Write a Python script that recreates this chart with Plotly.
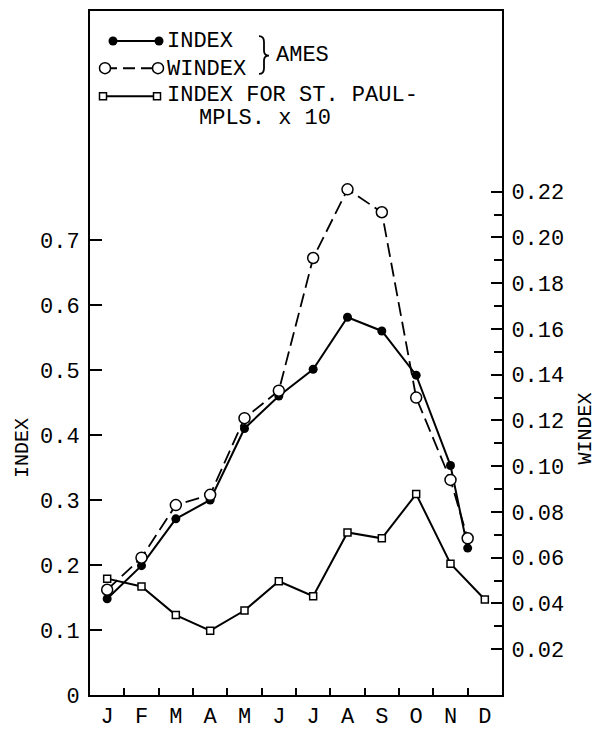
import plotly.graph_objects as go

# ---- data ----
month_labels = ["J", "F", "M", "A", "M", "J", "J", "A", "S", "O", "N", "D"]
month_pos = [0, 1, 2, 3, 4, 5, 6, 7, 8, 9, 10, 11]
ames_x = [0, 1, 2, 3, 4, 5, 6, 7, 8, 9, 10, 10.5]
index_ames = [0.148, 0.199, 0.271, 0.300, 0.410, 0.460, 0.501, 0.581, 0.560, 0.492, 0.353, 0.226]
windex_ames = [0.046, 0.060, 0.083, 0.0875, 0.121, 0.133, 0.191, 0.221, 0.211, 0.130, 0.094, 0.0685]
stpaul_x10 = [0.179, 0.167, 0.123, 0.099, 0.130, 0.175, 0.152, 0.250, 0.241, 0.309, 0.202, 0.147]

left_ticks = [0, 0.1, 0.2, 0.3, 0.4, 0.5, 0.6, 0.7]
left_ticktext = ["0", "0.1", "0.2", "0.3", "0.4", "0.5", "0.6", "0.7"]
right_major = [0.02, 0.04, 0.06, 0.08, 0.10, 0.12, 0.14, 0.16, 0.18, 0.20, 0.22]
right_major_text = ["0.02", "0.04", "0.06", "0.08", "0.10", "0.12", "0.14", "0.16", "0.18", "0.20", "0.22"]
right_minor = [0.03, 0.05, 0.07, 0.09, 0.11, 0.13, 0.15, 0.17, 0.19, 0.21]
month_bounds = [0.5, 1.5, 2.5, 3.5, 4.5, 5.5, 6.5, 7.5, 8.5, 9.5, 10.5]

FONT = "Liberation Mono"
FS = 22
W, H = 604, 739
L, R, T, B = 90, 502, 9, 715


def px(x):
    return (x - L) / (R - L)


def py(y):
    return (B - y) / (B - T)


fig = go.Figure()

fig.add_trace(go.Scatter(
    x=month_pos, y=stpaul_x10, mode="lines+markers", name="INDEX FOR ST. PAUL-MPLS. x 10",
    line=dict(color="black", width=2),
    marker=dict(symbol="square", size=7, color="white", line=dict(color="black", width=1.5)),
    showlegend=False))
fig.add_trace(go.Scatter(
    x=ames_x, y=index_ames, mode="lines+markers", name="INDEX",
    line=dict(color="black", width=2),
    marker=dict(symbol="circle", size=9, color="black"),
    showlegend=False))
fig.add_trace(go.Scatter(
    x=ames_x, y=windex_ames, mode="lines+markers", name="WINDEX", yaxis="y2",
    line=dict(color="black", width=1.8, dash="14px,6px"),
    marker=dict(symbol="circle", size=11, color="white", line=dict(color="black", width=1.5)),
    showlegend=False))

# legend glyphs (pixel-space overlay axes)
leg_rows = [
    dict(x=[113, 159], y=[40, 40], sym="circle", size=9, fill="black", dash="solid", lw=0),
    dict(x=[105, 158], y=[68, 68], sym="circle", size=11, fill="white", dash="12px,6px", lw=1.5),
    dict(x=[103, 157], y=[97, 97], sym="square", size=7, fill="white", dash="solid", lw=1.5),
]
for r in leg_rows:
    fig.add_trace(go.Scatter(
        x=r["x"], y=r["y"], mode="lines+markers", xaxis="x3", yaxis="y3",
        line=dict(color="black", width=2, dash=r["dash"]),
        marker=dict(symbol=r["sym"], size=r["size"], color=r["fill"],
                    line=dict(color="black", width=r["lw"])),
        showlegend=False, hoverinfo="skip"))

fig.update_layout(
    width=W, height=H, autosize=False,
    margin=dict(l=L, r=W - R, t=T, b=H - B, pad=0),
    paper_bgcolor="white", plot_bgcolor="white",
    font=dict(family=FONT, size=FS, color="black"),
    xaxis=dict(
        range=[-0.5, 11.5], showgrid=False, zeroline=False,
        showline=True, linecolor="black", linewidth=2, mirror=True,
        tickmode="array", tickvals=month_pos, ticktext=month_labels,
        ticks="", ticklen=0,
        minor=dict(tickmode="array", tickvals=month_bounds, ticks="inside",
                   ticklen=7, tickwidth=2, tickcolor="black"),
        tickfont=dict(family=FONT, size=FS),
    ),
    yaxis=dict(
        range=[0, (B - T) / 671.0], showgrid=False, zeroline=False,
        showline=True, linecolor="black", linewidth=2,
        tickmode="array", tickvals=left_ticks, ticktext=left_ticktext,
        ticks="inside", ticklen=12, tickwidth=2, tickcolor="black",
        ticklabelstandoff=4,
        tickfont=dict(family=FONT, size=FS),
    ),
    yaxis2=dict(
        overlaying="y", side="right", anchor="x",
        range=[0, (B - T) / 2361.5], showgrid=False, zeroline=False,
        showline=True, linecolor="black", linewidth=2,
        tickmode="array", tickvals=right_major, ticktext=right_major_text,
        ticks="inside", ticklen=11, tickwidth=2, tickcolor="black",
        minor=dict(tickmode="array", tickvals=right_minor, ticks="inside",
                   ticklen=8, tickwidth=2, tickcolor="black"),
        ticklabelstandoff=3,
        tickfont=dict(family=FONT, size=FS),
    ),
    xaxis3=dict(overlaying="x", range=[L, R], visible=False, anchor="y3"),
    yaxis3=dict(overlaying="y", range=[B, T], visible=False, anchor="x3"),
)

annots = [
    dict(text="INDEX", x=px(165), y=py(40)),
    dict(text="WINDEX", x=px(165), y=py(69)),
    dict(text="INDEX FOR ST. PAUL-", x=px(165), y=py(96)),
    dict(text="MPLS. x 10", x=px(197), y=py(120)),
    dict(text="AMES", x=px(274), y=py(55)),
]
for a in annots:
    fig.add_annotation(text=a["text"], x=a["x"], y=a["y"], xref="paper", yref="paper",
                       xanchor="left", yanchor="middle", showarrow=False,
                       font=dict(family=FONT, size=FS, color="black"))

# axis titles
fig.add_annotation(text="INDEX", x=px(23), y=py(460), xref="paper", yref="paper",
                   textangle=-90, showarrow=False, xanchor="center", yanchor="middle",
                   font=dict(family=FONT, size=20, color="black"))
fig.add_annotation(text="WINDEX", x=px(586), y=py(440), xref="paper", yref="paper",
                   textangle=-90, showarrow=False, xanchor="center", yanchor="middle",
                   font=dict(family=FONT, size=20, color="black"))

# brace grouping the AMES entries
bx0, bx1, bx2 = 259, 264, 269
brace = (f"M {px(bx0)},{py(35)} Q {px(bx1)},{py(35)} {px(bx1)},{py(41)} "
         f"L {px(bx1)},{py(50)} Q {px(bx1)},{py(55)} {px(bx2)},{py(55)} "
         f"Q {px(bx1)},{py(55)} {px(bx1)},{py(60)} "
         f"L {px(bx1)},{py(68)} Q {px(bx1)},{py(74)} {px(bx0)},{py(74)}")
fig.add_shape(type="path", path=brace, xref="paper", yref="paper",
              line=dict(color="black", width=1.8))

fig.write_html("out.html", config={"displayModeBar": False},
               post_script="document.body.style.margin='0';document.body.style.padding='0';")
